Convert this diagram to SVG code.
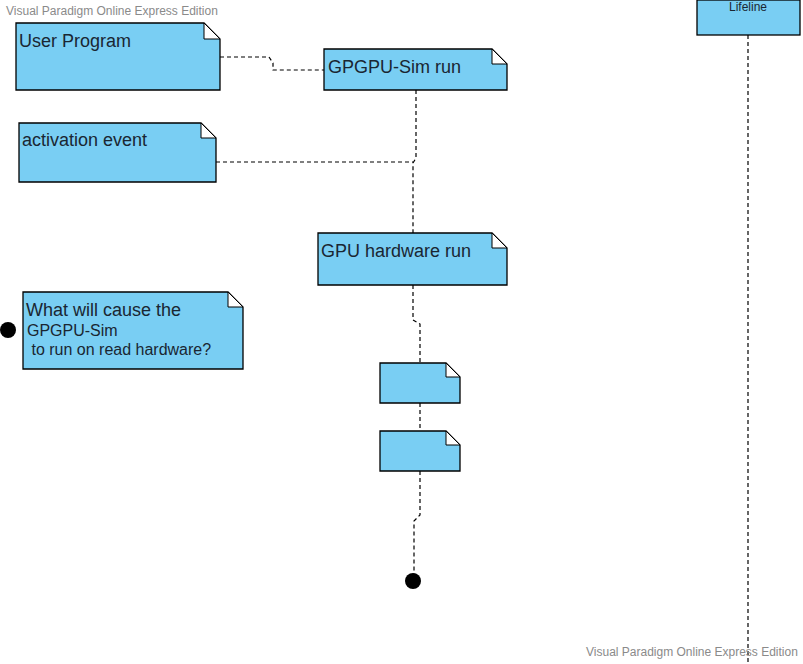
<svg xmlns="http://www.w3.org/2000/svg" width="803" height="664" viewBox="0 0 803 664">
<style>
.note{fill:#79cef3;stroke:#000;stroke-width:1.3}
.fold{fill:#fff;stroke:#000;stroke-width:1}
.t{font-family:"Liberation Sans",Arial,sans-serif;fill:#1a2632}
.wm{font-family:"Liberation Sans",Arial,sans-serif;font-size:12px;fill:#8a8a8a}
.c{fill:none;stroke:#000;stroke-width:1.2;stroke-dasharray:4 3}
</style>
<rect width="803" height="664" fill="#fff"/>
<text class="wm" x="6" y="15">Visual Paradigm Online Express Edition</text>
<g id="connectors">
<path class="c" d="M220 57 H269 L273 63 V70 H324"/>
<path class="c" d="M416 90 V158 L413 163 V233"/>
<path class="c" d="M216 162 H413"/>
<path class="c" d="M413 285 V320 L420 324 V363"/>
<path class="c" d="M420 403 V431"/>
<path class="c" d="M420 471 V515 L414 521 V575"/>
<path class="c" d="M748 35 V664"/>
</g>
<g id="user-program">
<path class="note" d="M16 23 H204 L220 39 V90 H16 Z"/>
<path class="fold" d="M204 23 V39 H220 Z"/>
<text class="t" x="19" y="47" font-size="18">User Program</text>
</g>
<g id="gpgpu-sim-run">
<path class="note" d="M324 49 H492 L507 64 V90 H324 Z"/>
<path class="fold" d="M492 49 V64 H507 Z"/>
<text class="t" x="328" y="73" font-size="18">GPGPU-Sim run</text>
</g>
<g id="activation-event">
<path class="note" d="M19 123 H201 L216 138 V182 H19 Z"/>
<path class="fold" d="M201 123 V138 H216 Z"/>
<text class="t" x="22" y="146" font-size="18">activation event</text>
</g>
<g id="gpu-hardware-run">
<path class="note" d="M318 233 H492 L507 248 V285 H318 Z"/>
<path class="fold" d="M492 233 V248 H507 Z"/>
<text class="t" x="321" y="257" font-size="18">GPU hardware run</text>
</g>
<g id="question">
<path class="note" d="M23 292 H228 L243 307 V369 H23 Z"/>
<path class="fold" d="M228 292 V307 H243 Z"/>
<text class="t" x="26" y="316" font-size="18">What will cause the</text>
<text class="t" x="27" y="336" font-size="16">GPGPU-Sim</text>
<text class="t" x="27" y="355" font-size="16" xml:space="preserve"> to run on read hardware?</text>
</g>
<g id="start-dot"><circle cx="8" cy="330" r="8" fill="#000"/></g>
<g id="note-a">
<path class="note" d="M380 363 H446 L460 377 V403 H380 Z"/>
<path class="fold" d="M446 363 V377 H460 Z"/>
</g>
<g id="note-b">
<path class="note" d="M380 431 H446 L460 445 V471 H380 Z"/>
<path class="fold" d="M446 431 V445 H460 Z"/>
</g>
<g id="end-dot"><circle cx="413" cy="581" r="8" fill="#000"/></g>
<g id="lifeline">
<rect class="note" x="697" y="0" width="103" height="35"/>
<text class="t" x="748" y="11" font-size="12" text-anchor="middle">Lifeline</text>
</g>
<text class="wm" x="586" y="656">Visual Paradigm Online Express Edition</text>
</svg>
